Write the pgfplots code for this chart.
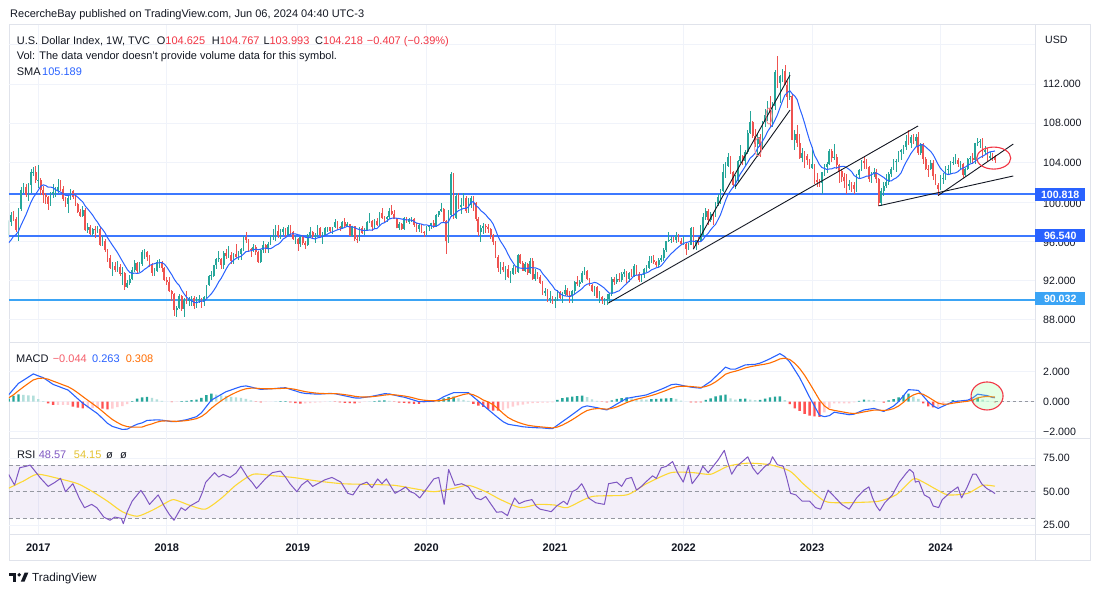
\documentclass[border=0pt]{standalone}
\usepackage{fontspec}
\setmainfont{Liberation Sans}
\usepackage{pgfplots}
\pgfplotsset{compat=1.18}
\usepackage{pgfplotstable}

\definecolor{upc}{HTML}{26A69A}
\definecolor{dnc}{HTML}{EF5350}
\definecolor{smac}{HTML}{2962FF}
\definecolor{gridc}{HTML}{F0F3FA}
\definecolor{framec}{HTML}{E0E3EB}
\definecolor{txt}{HTML}{131722}
\definecolor{redt}{HTML}{F23645}
\definecolor{lvl}{HTML}{3C78FF}
\definecolor{lvlbox}{HTML}{2962FF}
\definecolor{lvlb}{HTML}{3BA4F5}
\definecolor{sigc}{HTML}{FF6D00}
\definecolor{hA}{HTML}{26A69A}
\definecolor{hB}{HTML}{B2DFDB}
\definecolor{hC}{HTML}{FF5252}
\definecolor{hD}{HTML}{FFCDD2}
\definecolor{rsic}{HTML}{7E57C2}
\definecolor{rsima}{HTML}{FDD835}
\definecolor{dashc}{HTML}{9598A1}

\newcommand\fh{\fontsize{11}{13}\selectfont}
\newcommand\fa{\fontsize{10.6}{12}\selectfont}

\pgfplotsset{
  cup/.style={restrict expr to domain={\thisrow{c}-\thisrow{o}}{0:100}},
  cdn/.style={restrict expr to domain={\thisrow{o}-\thisrow{c}}{0.001:100}},
  hk/.style 2 args={restrict expr to domain={\thisrow{k}}{#1:#2}},
  panel/.style={anchor=south west, scale only axis, width=1026pt,
    xmin=0.16, xmax=415.2, xtick={12,64,117,169,221,273,325,377},
    xticklabels={}, yticklabels={}, grid=major,
    major grid style={draw=gridc, line width=0.8pt},
    axis line style={draw=none}, tick style={draw=none}},
}

% weekly candles: open high low close, sma(10)
\pgfplotstableread{
o h l c s
96.6 98.2 96.3 98.0 95.83
98.0 99.0 97.6 98.7 96.13
98.7 99.1 98.1 98.3 96.51
98.3 98.5 96.9 97.1 96.67
97.1 99.4 96.0 99.3 97.02
99.3 101.5 99.1 101.2 97.61
101.2 101.9 100.9 101.5 98.15
101.5 101.8 100.5 100.7 98.68
100.7 101.9 100.1 101.7 99.31
101.7 103.4 100.9 103.0 99.95
103.0 103.6 102.6 103.05 100.45
103.0 103.7 101.9 102.2 100.80
102.2 103.8 101.4 102.25 101.19
102.2 102.4 100.7 101.2 101.60
101.2 101.6 99.9 100.7 101.74
100.7 100.9 99.8 100.5 101.67
100.5 100.6 99.2 99.8 101.50
99.8 101.0 99.6 100.8 101.51
100.8 101.8 100.4 101.0 101.44
101.0 101.5 100.5 101.1 101.25
101.1 102.3 100.9 101.5 101.10
101.5 102.2 101.1 101.3 101.01
101.3 101.6 100.1 100.3 100.82
100.3 100.5 99.5 99.8 100.68
99.8 100.7 98.9 100.4 100.65
100.4 101.3 100.2 101.1 100.71
101.1 101.2 100.3 100.5 100.78
100.5 100.8 99.6 99.8 100.68
99.8 99.9 98.9 99.0 100.48
99.0 99.3 98.5 98.6 100.23
98.6 99.6 98.5 99.2 100.00
99.2 99.4 97.0 97.1 99.58
97.1 97.9 96.8 97.4 99.29
97.4 97.7 96.6 96.7 98.98
96.7 97.3 96.5 97.2 98.66
97.2 97.6 96.3 97.1 98.26
97.1 97.6 96.8 97.2 97.93
97.2 97.4 95.5 95.6 97.51
95.6 96.5 95.5 96.0 97.21
96.0 96.2 94.9 95.1 96.86
95.1 95.2 93.9 94.3 96.37
94.3 94.6 93.2 93.3 95.99
93.3 93.9 92.5 93.5 95.60
93.5 93.9 92.9 93.1 95.24
93.1 94.0 92.9 93.4 94.86
93.4 93.7 92.5 92.7 94.42
92.7 93.4 91.6 92.8 93.98
92.8 92.9 91.0 91.3 93.55
91.3 92.1 91.2 91.8 93.13
91.8 92.6 91.5 92.2 92.84
92.2 93.4 92.1 93.1 92.72
93.1 94.1 92.9 93.8 92.77
93.8 93.9 92.8 93.0 92.72
93.0 93.9 92.9 93.7 92.78
93.7 95.1 93.5 94.9 92.93
94.9 95.2 94.2 94.95 93.15
94.9 95.0 94.0 94.4 93.31
94.4 94.6 93.4 93.6 93.54
93.6 93.8 92.5 92.8 93.64
92.8 93.3 92.5 93.0 93.72
93.0 94.1 92.9 93.9 93.80
93.9 94.2 93.3 93.95 93.81
93.9 94.0 92.9 93.3 93.84
93.3 93.4 92.0 92.1 93.68
92.1 92.4 91.5 91.9 93.38
91.9 92.4 90.8 90.9 92.98
90.9 91.0 89.9 90.6 92.60
90.6 90.7 88.4 89.0 92.14
89.0 89.4 88.3 89.2 91.78
89.2 90.6 89.1 90.4 91.52
90.4 90.5 88.9 89.1 91.04
89.1 90.2 88.3 90.0 90.65
90.0 90.9 89.6 89.9 90.31
89.9 90.3 89.4 90.1 90.11
90.1 90.4 89.4 90.2 89.94
90.2 90.4 89.1 89.4 89.79
89.4 90.3 89.2 90.1 89.74
90.1 90.5 89.7 90.15 89.85
90.1 90.2 89.2 89.8 89.91
89.8 90.4 89.4 90.3 89.90
90.3 91.6 90.2 91.5 90.14
91.5 92.6 91.4 92.5 90.39
92.5 93.0 92.1 92.55 90.65
92.5 93.6 92.4 93.6 91.00
93.6 94.3 93.2 94.2 91.40
94.2 95.0 93.9 94.25 91.88
94.2 94.3 93.2 93.6 92.23
93.6 95.0 93.2 94.8 92.70
94.8 95.2 94.2 94.5 93.17
94.5 95.5 94.3 94.6 93.60
94.6 94.9 93.7 94.0 93.85
94.0 94.8 93.7 94.7 94.07
94.7 95.7 94.3 94.4 94.26
94.4 95.0 94.1 94.7 94.37
94.7 95.3 94.1 95.2 94.47
95.2 96.5 95.0 96.4 94.69
96.4 96.9 95.8 96.1 94.94
96.1 96.2 94.9 95.2 94.98
95.2 95.3 94.4 95.1 95.04
95.1 95.7 94.9 95.4 95.12
95.4 95.6 94.6 94.9 95.21
94.9 95.0 93.8 93.9 95.13
93.9 95.2 93.8 95.1 95.20
95.1 96.0 94.8 95.6 95.29
95.6 95.7 94.8 95.3 95.30
95.3 95.9 94.8 95.7 95.23
95.7 96.6 95.6 96.4 95.26
96.4 97.2 96.1 96.5 95.39
96.5 97.7 96.0 97.0 95.58
97.0 97.7 96.3 96.5 95.69
96.5 97.2 96.2 96.9 95.89
96.9 97.5 96.6 97.2 96.22
97.2 97.3 96.4 96.6 96.37
96.6 97.7 96.5 97.5 96.56
97.5 97.7 96.6 96.9 96.72
96.9 97.0 96.1 96.2 96.77
96.2 96.5 95.7 96.25 96.75
96.2 96.3 95.0 95.7 96.67
95.7 96.5 95.4 96.4 96.61
96.4 96.6 95.6 95.8 96.54
95.8 96.0 95.2 95.6 96.41
95.6 96.7 95.5 96.6 96.35
96.6 97.4 96.4 96.9 96.38
96.9 97.0 96.3 96.5 96.28
96.5 96.8 95.8 96.55 96.24
96.5 97.7 96.4 97.3 96.35
97.3 97.4 96.4 96.6 96.39
96.6 96.9 95.7 96.65 96.48
96.6 97.4 96.5 97.3 96.57
97.3 97.5 96.9 97.4 96.73
97.4 97.5 96.8 97.0 96.87
97.0 97.5 96.7 97.4 96.95
97.4 98.3 97.3 98.0 97.06
98.0 98.1 97.1 97.5 97.16
97.5 97.6 97.0 97.3 97.24
97.3 98.1 97.2 98.0 97.31
98.0 98.4 97.5 97.6 97.41
97.6 98.0 97.5 97.8 97.53
97.8 97.8 96.5 96.5 97.45
96.5 97.6 96.4 97.6 97.47
97.6 97.6 96.0 96.2 97.39
96.2 96.6 95.8 96.1 97.26
96.1 97.4 96.0 97.3 97.19
97.3 97.6 96.7 96.8 97.12
96.8 97.3 96.6 97.1 97.10
97.1 98.1 97.0 98.0 97.10
98.0 98.9 97.9 98.1 97.15
98.1 98.2 97.0 97.5 97.12
97.5 98.3 97.2 98.1 97.28
98.1 98.4 97.6 97.7 97.29
97.7 99.0 97.6 98.9 97.56
98.9 99.4 98.3 98.4 97.79
98.4 98.6 97.9 98.3 97.89
98.3 98.6 98.0 98.5 98.06
98.5 99.4 98.3 99.1 98.26
99.1 99.7 98.7 98.8 98.34
98.8 99.2 98.3 98.3 98.36
98.3 98.4 97.3 97.3 98.34
97.3 98.0 97.1 97.8 98.31
97.8 97.9 97.1 97.2 98.26
97.2 98.5 97.1 98.4 98.21
98.4 98.5 97.9 98.0 98.17
98.0 98.4 97.8 98.3 98.17
98.3 98.5 98.0 98.35 98.15
98.3 98.4 97.4 97.7 98.01
97.7 97.9 96.9 97.2 97.85
97.2 97.8 96.9 97.7 97.79
97.7 97.8 96.8 96.9 97.75
96.9 97.0 96.4 96.8 97.65
96.8 97.6 96.6 97.4 97.67
97.4 97.7 97.0 97.6 97.59
97.6 97.9 97.2 97.9 97.58
97.9 98.2 97.3 97.4 97.49
97.4 98.8 97.4 98.7 97.53
98.7 99.1 98.5 99.1 97.67
99.1 99.9 99.0 99.3 97.88
99.3 99.4 97.9 98.1 97.92
98.1 98.2 94.7 96.0 97.83
96.0 99.2 95.8 98.7 98.02
98.7 103.0 98.5 102.8 98.56
102.8 102.9 98.3 98.4 98.64
98.4 100.9 98.3 100.6 98.91
100.6 100.9 99.3 99.5 99.12
99.5 100.4 98.8 99.7 99.22
99.7 100.9 99.6 100.4 99.35
100.4 100.6 98.9 99.1 99.33
99.1 100.4 98.9 99.7 99.49
99.7 100.6 99.4 100.4 99.93
100.4 100.6 99.1 99.9 100.05
99.9 100.0 98.1 98.3 99.60
98.3 98.5 96.5 96.9 99.45
96.9 97.7 95.9 97.3 99.12
97.3 97.9 96.7 97.6 98.93
97.6 97.8 96.8 97.4 98.70
97.4 97.8 96.8 97.2 98.38
97.2 97.3 96.2 96.6 98.13
96.6 96.7 95.6 95.9 97.75
95.9 96.0 94.3 94.4 97.15
94.4 94.6 92.9 93.3 96.49
93.3 93.9 92.7 93.4 96.00
93.4 93.9 92.9 93.1 95.62
93.1 93.5 92.1 93.2 95.21
93.2 93.6 92.3 92.4 94.69
92.4 93.0 91.8 92.7 94.22
92.7 93.6 92.6 93.3 93.83
93.3 93.4 92.7 92.9 93.46
92.9 94.7 92.8 94.6 93.33
94.6 94.7 93.7 93.8 93.27
93.8 94.0 93.0 93.0 93.24
93.0 93.9 92.9 93.7 93.27
93.7 93.8 92.6 92.8 93.24
92.8 94.3 92.7 94.0 93.32
94.0 94.3 92.1 92.2 93.30
92.2 93.2 92.0 92.7 93.30
92.7 92.9 92.2 92.4 93.21
92.4 92.6 91.7 91.8 93.10
91.8 92.0 90.5 90.7 92.71
90.7 91.2 90.4 90.9 92.42
90.9 91.1 89.8 90.0 92.12
90.0 90.9 89.7 90.2 91.77
90.2 90.4 89.6 89.9 91.48
89.9 90.3 89.2 90.1 91.09
90.1 91.0 89.9 90.8 90.95
90.8 90.9 90.1 90.2 90.70
90.2 90.8 89.7 90.6 90.52
90.6 91.6 90.4 91.0 90.44
91.0 91.2 90.4 90.5 90.42
90.5 90.9 89.7 90.4 90.37
90.4 91.0 89.7 90.9 90.46
90.9 92.0 90.6 91.9 90.63
91.9 92.5 91.4 91.7 90.81
91.7 92.1 91.3 91.9 90.99
91.9 93.0 91.8 92.8 91.19
92.8 93.4 92.6 93.0 91.47
93.0 93.1 92.1 92.2 91.63
92.2 92.3 91.5 91.6 91.69
91.6 91.7 90.8 90.9 91.73
90.9 91.4 90.4 91.3 91.82
91.3 91.4 90.2 90.2 91.75
90.2 90.9 89.7 90.3 91.59
90.3 90.4 89.6 90.0 91.42
90.0 90.2 89.5 90.05 91.23
90.0 90.6 89.5 90.1 90.96
90.1 90.7 89.8 90.6 90.72
90.6 92.4 90.4 92.2 90.72
92.2 92.4 91.5 91.9 90.75
91.9 92.7 91.7 92.2 90.88
92.2 92.8 91.9 92.1 90.96
92.1 92.9 91.9 92.7 91.21
92.7 93.2 92.4 92.9 91.47
92.9 93.0 91.8 92.2 91.69
92.2 92.9 91.9 92.8 91.97
92.8 93.2 92.4 92.5 92.21
92.5 93.7 92.4 93.5 92.50
93.5 93.6 92.6 92.7 92.55
92.7 92.9 91.9 92.1 92.57
92.1 92.7 91.9 92.6 92.61
92.6 93.3 92.3 93.2 92.72
93.2 93.6 92.9 93.3 92.78
93.3 94.5 93.2 94.0 92.89
94.0 94.5 93.8 94.1 93.08
94.1 94.6 93.7 93.9 93.19
93.9 94.0 93.4 93.6 93.30
93.6 94.3 93.3 94.1 93.36
94.1 94.6 93.9 94.3 93.52
94.3 95.3 94.0 95.1 93.82
95.1 96.0 94.9 96.0 94.16
96.0 96.9 95.9 96.1 94.45
96.1 96.5 95.8 96.2 94.74
96.2 96.4 95.9 96.1 94.95
96.1 96.9 95.8 96.6 95.20
96.6 96.7 95.9 96.0 95.41
96.0 96.3 95.6 95.7 95.62
95.7 96.5 95.6 95.75 95.78
95.7 95.8 94.6 95.2 95.87
95.2 95.8 95.1 95.6 95.92
95.6 97.4 95.6 97.3 96.05
97.3 97.4 95.2 95.5 95.99
95.5 96.1 95.1 96.1 95.98
96.1 96.4 95.6 96.0 95.97
96.0 97.7 95.9 96.6 95.97
96.6 98.9 96.5 98.5 96.22
98.5 99.4 98.2 99.1 96.56
99.1 99.3 97.7 98.2 96.81
98.2 99.0 98.0 98.8 97.17
98.8 99.0 97.7 98.6 97.47
98.6 100.0 98.5 99.8 97.72
99.8 100.8 99.6 100.5 98.22
100.5 101.3 99.8 101.1 98.72
101.1 103.9 101.0 103.0 99.42
103.0 104.1 102.4 103.7 100.13
103.7 105.0 103.6 104.6 100.74
104.6 104.7 102.8 103.0 101.13
103.0 103.1 101.4 101.7 101.48
101.7 102.7 101.3 102.1 101.81
102.1 104.3 102.0 104.2 102.37
104.2 105.8 104.0 104.7 102.86
104.7 104.8 103.8 104.2 103.23
104.2 105.3 103.7 105.1 103.63
105.1 107.3 104.9 107.0 104.03
107.0 109.3 106.9 108.1 104.47
108.1 108.2 106.5 106.7 104.68
106.7 107.4 105.6 105.9 104.97
105.9 106.9 104.6 106.6 105.46
106.6 106.9 104.6 105.6 105.81
105.6 108.2 105.5 108.1 106.20
108.1 109.5 107.6 108.8 106.61
108.8 110.3 108.2 109.6 107.15
109.6 110.8 107.6 109.0 107.54
109.0 110.2 107.6 109.8 107.82
109.8 113.4 109.4 113.2 108.33
113.2 114.8 111.6 112.1 108.87
112.1 112.9 110.1 112.8 109.56
112.8 113.5 112.2 113.3 110.23
113.3 113.9 111.9 111.9 110.86
111.9 112.3 109.6 110.7 111.12
110.7 113.2 110.4 110.8 111.32
110.8 111.0 106.3 106.3 110.99
106.3 107.3 105.3 106.9 110.78
106.9 107.8 105.6 106.0 110.40
106.0 106.9 104.4 104.5 109.53
104.5 105.5 104.1 105.0 108.82
105.0 105.2 103.5 104.7 108.01
104.7 104.9 103.8 104.3 107.11
104.3 104.4 103.4 103.5 106.27
103.5 105.6 103.4 103.9 105.59
103.9 103.9 101.8 102.2 104.73
102.2 102.9 101.5 102.0 104.30
102.0 102.3 101.5 101.9 103.80
101.9 103.0 100.8 103.0 103.50
103.0 103.9 102.6 103.6 103.41
103.6 104.1 102.9 103.9 103.30
103.9 105.4 103.8 105.2 103.35
105.2 105.4 104.1 104.5 103.37
104.5 105.9 104.3 104.6 103.48
104.6 104.9 103.4 103.8 103.47
103.8 103.9 101.9 103.1 103.56
103.1 103.3 102.0 102.5 103.61
102.5 102.9 101.4 102.1 103.63
102.1 102.8 100.8 101.6 103.49
101.6 102.2 101.2 101.8 103.31
101.8 102.0 101.0 101.7 103.09
101.7 102.0 100.8 101.3 102.70
101.3 102.8 101.0 102.7 102.52
102.7 103.3 102.3 103.2 102.38
103.2 104.3 103.1 104.2 102.42
104.2 104.7 103.4 104.0 102.51
104.0 104.4 103.3 103.6 102.62
103.6 103.7 102.0 102.3 102.64
102.3 103.0 101.9 102.9 102.77
102.9 103.5 102.5 103.0 102.89
103.0 103.3 101.9 102.3 102.95
102.3 102.4 99.6 99.9 102.81
99.9 101.4 99.6 101.1 102.65
101.1 102.0 100.6 101.6 102.49
101.6 102.8 101.4 102.0 102.27
102.0 103.0 101.7 102.8 102.15
102.8 103.6 102.5 103.4 102.13
103.4 104.4 103.2 104.1 102.31
104.1 104.4 103.0 104.2 102.44
104.2 105.2 104.1 105.1 102.65
105.1 105.4 104.3 105.3 102.95
105.3 105.8 104.9 105.6 103.52
105.6 106.8 105.3 106.2 104.03
106.2 107.3 105.8 106.0 104.47
106.0 106.8 105.5 106.6 104.93
106.6 106.9 105.9 106.2 105.27
106.2 106.9 105.6 106.6 105.59
106.6 107.1 104.8 105.0 105.68
105.0 106.0 104.8 105.9 105.85
105.9 106.0 103.9 104.4 105.78
104.4 104.6 103.2 103.4 105.59
103.4 103.8 102.5 103.3 105.36
103.3 104.3 103.2 104.0 105.14
104.0 104.3 102.2 102.6 104.80
102.6 102.8 101.7 101.7 104.31
101.7 101.9 100.6 101.3 103.82
101.3 102.7 101.2 102.4 103.40
102.4 102.9 101.8 102.45 103.14
102.4 103.7 102.2 103.3 102.88
103.3 103.8 102.8 103.4 102.78
103.4 104.2 102.8 104.0 102.84
104.0 104.6 103.8 104.1 102.92
104.1 104.9 103.9 104.3 102.95
104.3 104.5 103.6 103.9 103.08
103.9 104.2 103.4 103.95 103.30
103.9 104.0 102.4 102.7 103.44
102.7 103.5 102.6 103.4 103.54
103.4 104.5 103.2 104.4 103.74
104.4 104.7 104.0 104.5 103.86
104.5 105.0 103.9 104.3 103.95
104.3 106.0 103.9 106.0 104.15
106.0 106.5 105.7 106.1 104.35
106.1 106.4 105.5 106.15 104.53
106.1 106.5 104.5 105.1 104.65
105.1 105.7 104.9 105.3 104.79
105.3 105.5 104.1 104.5 104.97
104.5 105.1 104.3 104.7 105.10
104.7 105.0 104.2 104.6 105.12
104.625 104.767 103.993 104.218 105.19
}\candles

% MACD (12,26,9): index, macd, signal, histogram, colour class
\pgfplotstableread{
i m s h k
0 0.45 0.25 0.20 1
2 0.84 0.46 0.38 1
4 1.22 0.73 0.49 1
6 1.43 0.98 0.45 2
8 1.64 1.22 0.42 2
10 1.85 1.45 0.40 2
12 1.72 1.55 0.17 2
14 1.60 1.57 0.03 2
16 1.38 1.50 -0.12 3
18 1.15 1.37 -0.22 3
20 1.03 1.25 -0.22 4
22 0.90 1.12 -0.22 4
24 0.78 1.00 -0.22 4
26 0.49 0.82 -0.33 3
28 0.19 0.59 -0.40 3
30 -0.10 0.34 -0.44 3
32 -0.33 0.10 -0.43 4
34 -0.57 -0.14 -0.43 4
36 -0.80 -0.38 -0.42 4
38 -1.12 -0.65 -0.47 3
40 -1.44 -0.93 -0.51 3
42 -1.65 -1.19 -0.46 4
44 -1.75 -1.39 -0.36 4
46 -1.85 -1.56 -0.29 4
48 -1.83 -1.66 -0.17 4
50 -1.66 -1.70 0.04 1
52 -1.50 -1.70 0.20 1
54 -1.41 -1.69 0.28 1
56 -1.25 -1.57 0.32 1
58 -1.23 -1.48 0.25 2
60 -1.21 -1.36 0.15 2
62 -1.23 -1.29 0.06 2
64 -1.28 -1.28 0.00 2
66 -1.33 -1.30 -0.03 3
68 -1.32 -1.31 -0.01 4
70 -1.26 -1.29 0.03 1
72 -1.20 -1.26 0.06 1
74 -1.10 -1.20 0.10 1
76 -1.00 -1.13 0.13 1
78 -0.74 -0.99 0.25 1
80 -0.32 -0.75 0.43 1
82 0.10 -0.44 0.54 1
84 0.29 -0.18 0.47 2
86 0.48 0.06 0.42 2
88 0.67 0.28 0.39 2
90 0.78 0.46 0.32 2
92 0.90 0.62 0.28 2
94 1.01 0.76 0.25 2
96 1.05 0.86 0.19 2
98 0.98 0.90 0.08 2
100 0.89 0.90 -0.01 3
102 0.82 0.87 -0.05 3
104 0.84 0.86 -0.02 4
106 0.86 0.86 0.00 4
108 0.88 0.87 0.01 1
110 0.91 0.88 0.03 1
112 0.93 0.90 0.03 1
114 0.82 0.87 -0.05 3
116 0.72 0.82 -0.10 3
118 0.61 0.74 -0.13 3
120 0.55 0.67 -0.12 4
122 0.53 0.62 -0.09 4
124 0.51 0.58 -0.07 4
126 0.51 0.55 -0.04 4
128 0.53 0.54 -0.01 4
130 0.55 0.54 0.01 1
132 0.53 0.54 -0.01 3
134 0.46 0.51 -0.05 3
136 0.39 0.47 -0.08 3
138 0.32 0.42 -0.10 3
140 0.25 0.36 -0.11 3
142 0.24 0.32 -0.08 4
144 0.29 0.31 -0.02 4
146 0.33 0.32 0.01 1
148 0.39 0.35 0.04 1
150 0.46 0.39 0.07 1
152 0.53 0.44 0.09 1
154 0.52 0.47 0.05 2
156 0.44 0.46 -0.02 3
158 0.36 0.42 -0.06 3
160 0.30 0.38 -0.08 3
162 0.20 0.32 -0.12 3
164 0.10 0.24 -0.14 3
166 0.00 0.15 -0.15 3
168 0.01 0.10 -0.09 4
170 0.02 0.07 -0.05 4
172 0.03 0.06 -0.03 4
174 0.14 0.06 0.08 1
176 0.33 0.11 0.22 1
178 0.47 0.17 0.30 1
180 0.60 0.27 0.33 1
182 0.60 0.38 0.22 2
184 0.60 0.48 0.12 2
186 0.60 0.54 0.06 2
188 0.32 0.46 -0.14 3
190 0.04 0.31 -0.27 3
192 -0.24 0.11 -0.35 3
194 -0.52 -0.02 -0.50 3
196 -0.80 -0.20 -0.60 3
198 -1.07 -0.47 -0.60 3
200 -1.33 -0.78 -0.55 4
202 -1.50 -1.05 -0.45 4
204 -1.56 -1.23 -0.33 4
206 -1.61 -1.37 -0.24 4
208 -1.67 -1.48 -0.19 4
210 -1.70 -1.57 -0.13 4
212 -1.72 -1.62 -0.10 4
214 -1.74 -1.66 -0.08 4
216 -1.75 -1.69 -0.06 4
218 -1.78 -1.72 -0.06 4
220 -1.80 -1.75 -0.05 4
222 -1.57 -1.69 0.12 1
224 -1.33 -1.56 0.23 1
226 -1.10 -1.39 0.29 1
228 -0.86 -1.20 0.34 1
230 -0.62 -0.99 0.37 1
232 -0.37 -0.77 0.40 1
234 -0.28 -0.59 0.31 2
236 -0.34 -0.50 0.16 2
238 -0.40 -0.46 0.06 2
240 -0.48 -0.47 -0.01 3
242 -0.55 -0.50 -0.05 3
244 -0.36 -0.45 0.09 1
246 -0.16 -0.35 0.19 1
248 0.03 -0.21 0.24 1
250 0.22 -0.06 0.28 1
252 0.28 0.06 0.22 2
254 0.34 0.16 0.18 2
256 0.39 0.24 0.15 2
258 0.45 0.32 0.13 2
260 0.58 0.41 0.17 1
262 0.70 0.51 0.19 1
264 0.83 0.63 0.20 1
266 0.97 0.75 0.22 1
268 1.13 0.89 0.24 1
270 1.17 0.99 0.18 2
272 1.10 1.03 0.07 2
274 1.03 1.03 0.00 2
276 0.97 1.01 -0.04 3
278 0.93 0.98 -0.05 3
280 0.90 0.95 -0.05 3
282 1.13 1.01 0.12 1
284 1.35 1.13 0.22 1
286 1.67 1.32 0.35 1
288 1.98 1.56 0.42 1
290 2.30 1.83 0.47 1
292 2.17 1.95 0.22 2
294 2.17 2.03 0.14 2
296 2.31 2.13 0.18 1
298 2.45 2.25 0.20 1
300 2.47 2.33 0.14 2
302 2.49 2.39 0.10 2
304 2.57 2.45 0.12 1
306 2.71 2.50 0.21 1
308 2.86 2.58 0.28 1
310 3.03 2.70 0.33 1
312 3.20 2.85 0.35 1
314 3.00 2.90 0.10 2
316 2.64 2.81 -0.17 3
318 2.12 2.56 -0.44 3
320 1.60 2.21 -0.61 3
322 0.95 1.76 -0.81 3
324 0.30 1.23 -0.93 3
326 -0.30 0.68 -0.98 3
328 -0.90 0.12 -1.02 3
330 -1.00 -0.28 -0.72 4
332 -0.93 -0.51 -0.42 4
334 -0.70 -0.58 -0.12 4
336 -0.76 -0.64 -0.12 4
338 -0.81 -0.70 -0.11 4
340 -0.87 -0.76 -0.11 4
342 -0.83 -0.79 -0.04 4
344 -0.69 -0.75 0.06 1
346 -0.55 -0.68 0.13 1
348 -0.50 -0.62 0.12 2
350 -0.45 -0.56 0.11 2
352 -0.55 -0.56 0.01 2
354 -0.65 -0.59 -0.06 3
356 -0.47 -0.55 0.08 1
358 -0.29 -0.46 0.17 1
360 0.00 -0.29 0.29 1
362 0.40 -0.04 0.44 1
364 0.80 0.26 0.54 1
366 0.78 0.45 0.33 2
368 0.75 0.56 0.19 2
370 0.37 0.49 -0.12 3
372 -0.01 0.31 -0.32 3
374 -0.28 0.10 -0.38 3
376 -0.45 -0.10 -0.35 4
378 -0.30 -0.17 -0.13 4
380 -0.15 -0.16 0.01 1
382 0.00 -0.10 0.10 1
384 0.03 -0.05 0.08 2
386 0.07 -0.01 0.08 2
388 0.10 0.03 0.07 2
390 0.25 0.11 0.14 1
392 0.50 0.25 0.25 1
394 0.45 0.32 0.13 2
396 0.40 0.35 0.05 2
398 0.28 0.32 -0.04 0
399 0.263 0.308 -0.044 3
}\macd

\begin{document}
\begin{tikzpicture}[x=1pt,y=1pt]
\fill[white] (0,0) rectangle (1100,-593);
\path[use as bounding box] (0,0) rectangle (1100,-593);

% frame and panel separators
\draw[framec, line width=1pt] (9,-25) rectangle (1090,-560);
\draw[framec, line width=1pt] (9,-343) -- (1090,-343);
\draw[framec, line width=1pt] (9,-438.3) -- (1090,-438.3);
\draw[framec, line width=1pt] (9,-534) -- (1090,-534);
\draw[framec, line width=1pt] (1035,-25) -- (1035,-560);

% ---------------- price panel ----------------
\begin{axis}[panel, at={(9pt,-343pt)}, height=318pt,
  ymin=85.65, ymax=118.0, ytick={88,92,...,116}]
% horizontal levels (under the candles' annotations)
\addplot[draw=lvl, line width=1.5pt] coordinates {(0,100.818) (416,100.818)};
\addplot[draw=lvl, line width=1.7pt] coordinates {(0,96.540) (416,96.540)};
\addplot[draw=lvlb, line width=1.3pt] coordinates {(0,90.032) (416,90.032)};
\addplot[draw=none, mark=none, cup, error bars/.cd, y dir=both, y explicit,
  error mark=none, error bar style={draw=upc, line width=0.65pt, solid}]
  table[x expr=\coordindex, y=c, y error plus expr=\thisrow{h}-\thisrow{c},
        y error minus expr=\thisrow{c}-\thisrow{l}] {\candles};
\addplot[draw=none, mark=none, cdn, error bars/.cd, y dir=both, y explicit,
  error mark=none, error bar style={draw=dnc, line width=0.65pt, solid}]
  table[x expr=\coordindex, y=c, y error plus expr=\thisrow{h}-\thisrow{c},
        y error minus expr=\thisrow{c}-\thisrow{l}] {\candles};
\addplot[draw=none, mark=none, cup, error bars/.cd, y dir=both, y explicit,
  error mark=none, error bar style={draw=upc, line width=1.7pt, solid}]
  table[x expr=\coordindex, y=c, y error plus expr=0,
        y error minus expr=\thisrow{c}-\thisrow{o}] {\candles};
\addplot[draw=none, mark=none, cdn, error bars/.cd, y dir=both, y explicit,
  error mark=none, error bar style={draw=dnc, line width=1.7pt, solid}]
  table[x expr=\coordindex, y=c, y error plus expr=\thisrow{o}-\thisrow{c},
        y error minus expr=0] {\candles};
\addplot[smac, line width=1pt, line join=round] table[x expr=\coordindex, y=s] {\candles};

% trend lines
\draw[txt, line width=0.9pt] (axis cs:242.5,89.7) -- (axis cs:367.9,107.73);
\draw[txt, line width=0.9pt] (axis cs:277.0,95.2) -- (axis cs:316.1,112.91);
\draw[txt, line width=0.9pt] (axis cs:293.9,101.52) -- (axis cs:316.1,109.35);
\draw[txt, line width=0.9pt] (axis cs:351.9,99.6) -- (axis cs:406.4,102.64);
\draw[txt, line width=0.9pt] (axis cs:376,100.65) -- (axis cs:406.4,105.89);
% marks drawn on the chart
\draw[redt, line width=1.1pt] (axis cs:398.5,104.46) ellipse [x radius=17pt, y radius=11pt];
\draw[redt!60, line width=0.8pt] (axis cs:303.2,105.59) ellipse [x radius=3.5pt, y radius=9pt];
\draw[redt!60, line width=0.8pt] (axis cs:307.6,108.74) ellipse [x radius=3pt, y radius=8pt];
\end{axis}

% ---------------- MACD panel ----------------
\begin{axis}[panel, at={(9pt,-438.3pt)}, height=95.3pt,
  ymin=-2.44, ymax=3.91, ytick={-2,0,2}]
\addplot[ybar, bar width=2.4pt, bar shift=0pt, fill=hA, draw=none, hk={0.5}{1.5}] table[x=i, y=h] {\macd};
\addplot[ybar, bar width=2.4pt, bar shift=0pt, fill=hB, draw=none, hk={1.5}{2.5}] table[x=i, y=h] {\macd};
\addplot[ybar, bar width=2.4pt, bar shift=0pt, fill=hC, draw=none, hk={2.5}{3.5}] table[x=i, y=h] {\macd};
\addplot[ybar, bar width=2.4pt, bar shift=0pt, fill=hD, draw=none, hk={3.5}{4.5}] table[x=i, y=h] {\macd};
\addplot[smac, line width=1.1pt, line join=round] table[x=i, y=m] {\macd};
\addplot[sigc, line width=1.1pt, line join=round] table[x=i, y=s] {\macd};
\draw[dashc, dash pattern=on 3pt off 3pt, line width=0.7pt] (axis cs:399,0) -- (axis cs:416,0);
\draw[redt, line width=1.1pt, fill=green!40!white, fill opacity=0.25] (axis cs:395.8,0.38) ellipse [x radius=16pt, y radius=14pt];
\end{axis}

% ---------------- RSI panel ----------------
\begin{axis}[panel, at={(9pt,-534pt)}, height=95.7pt,
  ymin=18.3, ymax=90.05, ytick={25,75}]
\addplot[draw=none, fill=rsic, fill opacity=0.09] coordinates {(0,30) (416,30) (416,70) (0,70)} \closedcycle;
\addplot[dashc, dash pattern=on 4pt off 3pt, line width=0.7pt] coordinates {(0,70) (416,70)};
\addplot[dashc, dash pattern=on 4pt off 3pt, line width=0.7pt] coordinates {(0,50) (416,50)};
\addplot[dashc, dash pattern=on 4pt off 3pt, line width=0.7pt] coordinates {(0,30) (416,30)};
\addplot[rsima, line width=1.1pt, line join=round, smooth, tension=0.4] coordinates {
(0,52.6) (6,58) (11.6,63.1) (20,60) (28,56) (34,50) (40,42.9) (46,35) (52,31.6)
(58,36) (63,41) (66.8,44.1) (73,40) (79.5,36.9) (86,45) (92,55) (99,63.1) (107,62)
(115,60.7) (125,58) (135,56) (145,55.5) (156,54.8) (165,52) (172,50) (180,52.5)
(186,54.8) (193,50) (199,44.1) (207,38.1) (214,40.5) (221,40) (226,38.1) (236,46.4)
(250,47.6) (258,56) (268,64.3) (277,64.3) (284,63.1) (291,69.1) (299,71.4) (308,70.2)
(316,65.5) (322,55) (330,43) (336,41.7) (344,42) (352,42.9) (359,47.6) (366,59.6)
(370,57.2) (375,52) (380,47.6) (388,48.8) (394,54.8) (399,54.15)};
\addplot[rsic, line width=1pt, line join=round] coordinates {
(0,63) (2.4,55) (4.5,68) (7,69) (8.7,70) (10,67) (13,60) (16,54) (18.7,57) (21,60)
(23,50) (26,56) (28.6,45) (30.7,38) (33.6,40.5) (35.7,38) (38.5,31) (41,28.6) (43,31)
(45.6,30) (46.4,26) (48,35) (50,43) (53.5,51) (55,47) (57,40.5) (60.5,47.6) (63.3,38)
(65,33) (66.9,28.6) (69.8,38) (71.5,36) (73.4,39.3) (76.9,43) (78.5,50) (79.7,57)
(83.3,64.3) (85,61) (86.8,63) (89.6,60.7) (92,64) (93.9,69) (96.7,60.7) (98.5,57)
(100.3,52.4) (103.8,59.6) (106.7,64.3) (110,65.5) (112,61) (113.8,56) (116.6,50)
(118.5,55) (120.9,58.4) (123,54) (125,56) (128,59) (130.8,60.7) (134.4,57.2)
(137.2,48.8) (139.3,47.6) (142,55) (144.9,57.2) (147,53) (149.3,59.6) (151,56)
(152.8,59.6) (156.3,48.8) (158.5,51) (160.6,53.6) (162.5,50) (164.2,48.8) (166.3,45.3)
(169,52) (172,59.6) (174,60.7) (176.2,40.5) (178,66.7) (180.5,54.8) (183.3,56)
(186,53.6) (189,45.3) (191,44) (193,46.4) (195,41) (197.4,34.6) (199.5,35) (201.8,32.1)
(203,38) (204.7,45.3) (206.5,41) (208.8,42.9) (211.7,44.1) (213.5,39) (215,36.9)
(218,35.7) (219.5,35) (221.7,39.3) (224.5,42.9) (226,40.5) (228,50) (230,52)
(231.8,56) (233,52) (234.6,45.3) (237.5,41.7) (241,40.5) (242.7,56) (246,57.2)
(248,54) (249.8,59.6) (252,60.7) (254,51.2) (256,54) (257.7,57.2) (260.5,61.9)
(262,60) (264,67.9) (266,69) (268.6,72.6) (270.6,64.3) (272.9,57.2) (275,69.1)
(276.5,56) (279.4,63.1) (280.8,69.1) (283,64.3) (285,69.1) (287,73.8) (289.5,81)
(290.8,72.6) (292.5,63.1) (294.5,69.1) (296.8,72.6) (299,76.2) (301,67.9) (303,63.1)
(306,69.1) (308,71.4) (309,76.2) (311,70.2) (313.4,69.1) (314.7,60.7) (316.3,48.8)
(318.5,47.6) (321,42.9) (324,42.9) (326.4,38.1) (328.5,36.9) (330,44.1) (331.5,51.2)
(334,46.4) (337,40.5) (340,36.9) (343,45.3) (346,51.2) (348,53.6) (349.5,45.3)
(351,39.3) (352.4,35.7) (354.4,41.7) (357.5,47.6) (360.3,57.2) (363.3,64.3)
(364.5,66.7) (366,64.3) (366.8,57.2) (368.2,58) (370.4,47.6) (372.6,45.3) (374,39.3)
(376.2,38.1) (377.7,44.1) (380.5,48.8) (384,53.6) (385.5,45.3) (387.8,53.6) (390,63.1)
(391.4,63.1) (393.6,56) (395.7,52.4) (398,50) (399,48.57)};
\end{axis}

% ---------------- texts ----------------
\begin{scope}[every node/.style={inner sep=0, text=txt}]
\node[anchor=base west, font=\fh] at (10,-17.5) {RecercheBay published on TradingView.com, Jun 06, 2024 04:40 UTC-3};
\node[anchor=base west, font=\fh] at (16.7,-44.5) {U.S. Dollar Index, 1W, TVC};
\node[anchor=base west, font=\fh] at (156.7,-44.5) {O{\color{redt}104.625}};
\node[anchor=base west, font=\fh] at (211.7,-44.5) {H{\color{redt}104.767}};
\node[anchor=base west, font=\fh] at (263.3,-44.5) {L{\color{redt}103.993}};
\node[anchor=base west, font=\fh] at (315,-44.5) {C{\color{redt}104.218}};
\node[anchor=base west, font=\fh] at (366.7,-44.5) {\color{redt}−0.407 (−0.39\%)};
\node[anchor=base west, font=\fh] at (16.7,-60) {Vol: The data vendor doesn't provide volume data for this symbol.};
\node[anchor=base west, font=\fh] at (16.7,-76) {SMA};
\node[anchor=base west, font=\fh] at (42,-76) {\color{smac}105.189};

\node[anchor=base west, font=\fh] at (16,-362.3) {MACD};
\node[anchor=base west, font=\fh] at (52.6,-362.3) {\color{redt!80!white}−0.044};
\node[anchor=base west, font=\fh] at (92,-362.3) {\color{smac}0.263};
\node[anchor=base west, font=\fh] at (125.6,-362.3) {\color{sigc}0.308};

\node[anchor=base west, font=\fh] at (16.8,-458) {RSI};
\node[anchor=base west, font=\fh] at (38.6,-458) {\color{rsic}48.57};
\node[anchor=base west, font=\fh] at (73.7,-458) {\color{rsima!90!black}54.15};
\node[anchor=base west, font=\fh] at (106,-458) {ø};
\node[anchor=base west, font=\fh] at (120,-458) {ø};

% right scale
\node[anchor=west, font=\fa] at (1045,-40) {USD};
\node[anchor=west, font=\fa] at (1043,-84.0) {112.000};
\node[anchor=west, font=\fa] at (1043,-123.3) {108.000};
\node[anchor=west, font=\fa] at (1043,-162.6) {104.000};
\node[anchor=west, font=\fa] at (1043,-203.5) {100.000};
\node[anchor=west, font=\fa] at (1043,-242.5) {96.000};
\node[anchor=west, font=\fa] at (1043,-280.6) {92.000};
\node[anchor=west, font=\fa] at (1043,-319.9) {88.000};
\node[anchor=west, font=\fa\bfseries, fill=lvlbox, text=white, minimum width=50pt, minimum height=13pt] at (1035,-194.5) {100.818};
\node[anchor=west, font=\fa\bfseries, fill=lvlbox, text=white, minimum width=50pt, minimum height=13pt] at (1035,-235.5) {96.540};
\node[anchor=west, font=\fa\bfseries, fill=lvlb, text=white, minimum width=50pt, minimum height=13pt] at (1035,-298.5) {90.032};
\node[anchor=west, font=\fa] at (1043,-371.7) {2.000};
\node[anchor=west, font=\fa] at (1043,-401.7) {0.000};
\node[anchor=west, font=\fa] at (1043,-431.7) {−2.000};
\node[anchor=west, font=\fa] at (1043,-457.5) {75.00};
\node[anchor=west, font=\fa] at (1043,-491.7) {50.00};
\node[anchor=west, font=\fa] at (1043,-525.0) {25.00};

% time scale
\node[anchor=base, font=\fh\bfseries] at (38.3,-551) {2017};
\node[anchor=base, font=\fh\bfseries] at (166.8,-551) {2018};
\node[anchor=base, font=\fh\bfseries] at (297.8,-551) {2019};
\node[anchor=base, font=\fh\bfseries] at (426.4,-551) {2020};
\node[anchor=base, font=\fh\bfseries] at (554.9,-551) {2021};
\node[anchor=base, font=\fh\bfseries] at (683.5,-551) {2022};
\node[anchor=base, font=\fh\bfseries] at (812.0,-551) {2023};
\node[anchor=base, font=\fh\bfseries] at (940.5,-551) {2024};

% TradingView mark
\fill[txt] (9.3,-572.7) rectangle (16.3,-575.7);
\fill[txt] (12.8,-572.7) rectangle (16.3,-581.7);
\fill[txt] (19.2,-574.8) circle (1.9);
\fill[txt] (20.8,-581.7) -- (24.6,-572.7) -- (28.3,-572.7) -- (24.5,-581.7) -- cycle;
\node[anchor=base west, font=\fontsize{11.7}{13}\selectfont] at (32,-581.5) {TradingView};
\end{scope}
\end{tikzpicture}
\end{document}
